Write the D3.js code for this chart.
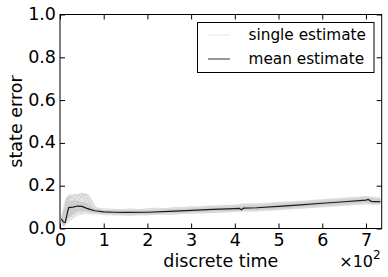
<!DOCTYPE html>
<html><head><meta charset="utf-8">
<script src="https://cdn.jsdelivr.net/npm/d3@7"></script>
<style>body{margin:0;background:#fff}svg{display:block}text{font-family:"DejaVu Sans",sans-serif;fill:#000}</style>
</head><body>
<script>
// ---- data ----
const xTicks = [0,1,2,3,4,5,6,7];          // in units of 10^2
const yTicks = [0.0,0.2,0.4,0.6,0.8,1.0];
const meanT = [3,8,12,17,20,30,40,50,60,70,80,100,125,150,200,250,300,350,400,410,415,420,450,500,550,600,650,700,705,712,720,733];
const meanV = [0.045,0.030,0.028,0.075,0.098,0.100,0.105,0.103,0.095,0.088,0.083,0.078,0.076,0.075,0.076,0.080,0.085,0.089,0.093,0.094,0.088,0.095,0.097,0.103,0.110,0.118,0.125,0.133,0.136,0.127,0.126,0.126];
const bandT = [3,10,20,40,60,70,80,100,150,200,250,300,350,400,420,450,500,550,600,650,700,720,733];
const bandOuterHi = [0.06,0.13,0.16,0.16,0.165,0.14,0.10,0.095,0.090,0.092,0.097,0.103,0.107,0.112,0.118,0.118,0.125,0.130,0.138,0.145,0.152,0.148,0.145];
const bandOuterLo = [0.02,0.01,0.03,0.06,0.07,0.066,0.065,0.062,0.060,0.062,0.066,0.070,0.073,0.077,0.079,0.080,0.085,0.092,0.098,0.105,0.112,0.111,0.110];
const bandInnerHi = [0.05,0.10,0.13,0.13,0.12,0.105,0.092,0.087,0.083,0.085,0.090,0.095,0.099,0.104,0.108,0.109,0.116,0.122,0.130,0.137,0.145,0.140,0.138];
const bandInnerLo = [0.03,0.02,0.05,0.08,0.08,0.075,0.072,0.069,0.067,0.068,0.071,0.075,0.079,0.083,0.086,0.087,0.092,0.099,0.106,0.113,0.121,0.117,0.116];
const earlyT = [3,6,9,12,15,18,22,26,30,35,40,45,50,55,60,65,70,75,80,90,100,110,120];
const single1 = [0.05,0.03,0.02,0.06,0.12,0.14,0.15,0.14,0.15,0.16,0.155,0.16,0.15,0.14,0.12,0.10,0.09,0.085,0.08,0.078,0.08,0.076,0.077];
const single2 = [0.04,0.02,0.03,0.09,0.13,0.12,0.11,0.12,0.13,0.14,0.15,0.16,0.165,0.16,0.15,0.13,0.11,0.095,0.088,0.082,0.079,0.078,0.076];
const single3 = [0.06,0.04,0.01,0.05,0.10,0.13,0.145,0.15,0.14,0.13,0.12,0.11,0.10,0.095,0.09,0.087,0.085,0.08,0.078,0.077,0.075,0.074,0.074];
const single4 = [0.03,0.05,0.03,0.07,0.11,0.10,0.09,0.095,0.10,0.11,0.125,0.14,0.15,0.155,0.16,0.155,0.14,0.12,0.10,0.09,0.083,0.08,0.078];
const single5 = [0.05,0.02,0.04,0.08,0.14,0.15,0.13,0.12,0.11,0.10,0.095,0.09,0.088,0.085,0.083,0.082,0.08,0.079,0.078,0.076,0.075,0.074,0.073];
const fullT = [120,140,160,180,200,220,240,260,280,300,320,340,360,380,400,420,440,460,480,500,520,540,560,580,600,620,640,660,680,700,720,733];
const single6 = [0.090,0.086,0.092,0.088,0.091,0.095,0.092,0.097,0.096,0.101,0.099,0.104,0.103,0.108,0.106,0.113,0.110,0.115,0.114,0.120,0.119,0.125,0.124,0.131,0.130,0.137,0.135,0.142,0.141,0.150,0.140,0.139];
const single7 = [0.064,0.066,0.062,0.065,0.064,0.067,0.068,0.066,0.071,0.072,0.074,0.073,0.077,0.078,0.080,0.082,0.081,0.086,0.087,0.090,0.092,0.095,0.097,0.100,0.104,0.106,0.110,0.112,0.117,0.119,0.113,0.114];
const single8 = [0.082,0.080,0.083,0.079,0.084,0.083,0.087,0.085,0.090,0.089,0.094,0.093,0.097,0.096,0.101,0.100,0.104,0.106,0.108,0.111,0.113,0.117,0.118,0.123,0.125,0.129,0.131,0.135,0.137,0.142,0.133,0.132];
const legendLabels = ["single estimate","mean estimate"];

// ---- layout ----
const W=388,H=277, L=60, T=14.5, R=381.7, B=228.5, FS=17.5;
const svg=d3.select("body").append("svg").attr("width",W).attr("height",H);
const x=d3.scaleLinear().domain([0,736]).range([L,R]);
const y=d3.scaleLinear().domain([0,1]).range([B,T]);

const g=svg.append("g");
const area=(hi,lo)=>d3.area().x((d,i)=>x(bandT[i])).y0((d,i)=>y(lo[i])).y1((d,i)=>y(hi[i]));
g.append("path").datum(bandT).attr("d",area(bandOuterHi,bandOuterLo)).attr("fill","#e4e4e4");
g.append("path").datum(bandT).attr("d",area(bandInnerHi,bandInnerLo)).attr("fill","#cdcdcd");
const line=(tt,vv)=>d3.line().x((d,i)=>x(tt[i])).y((d,i)=>y(vv[i]))(tt);
[single1,single2,single3,single4,single5].forEach(s=>{
  g.append("path").attr("d",line(earlyT,s)).attr("fill","none").attr("stroke","#cfcfcf").attr("stroke-width",1);
});
[single6,single7,single8].forEach(s=>{
  g.append("path").attr("d",line(fullT,s)).attr("fill","none").attr("stroke","#d6d6d6").attr("stroke-width",0.8);
});
g.append("path").attr("d",line(meanT,meanV)).attr("fill","none").attr("stroke","#1a1a1a").attr("stroke-width",1.2);

// axes
const tickLen=5;
const xa=svg.append("g").attr("transform",`translate(0,${B})`).call(d3.axisBottom(x).tickValues(xTicks.map(v=>v*100)).tickFormat(d=>d/100).tickSizeInner(-tickLen).tickSizeOuter(0).tickPadding(4));
const xt=svg.append("g").attr("transform",`translate(0,${T})`).call(d3.axisTop(x).tickValues(xTicks.map(v=>v*100)).tickFormat("").tickSizeInner(-tickLen).tickSizeOuter(0));
const ya=svg.append("g").attr("transform",`translate(${L},0)`).call(d3.axisLeft(y).tickValues(yTicks).tickFormat(d3.format(".1f")).tickSizeInner(-tickLen).tickSizeOuter(0).tickPadding(4));
const yr=svg.append("g").attr("transform",`translate(${R},0)`).call(d3.axisRight(y).tickValues(yTicks).tickFormat("").tickSizeInner(-tickLen).tickSizeOuter(0));
[xa,xt,ya,yr].forEach(a=>{a.select(".domain").remove();a.selectAll("line").attr("stroke","#000");a.selectAll("text").attr("font-size",FS).attr("font-family","DejaVu Sans");});
xa.selectAll("text").attr("dy","0.75em");
ya.selectAll("text").attr("dy","0.28em");
svg.append("rect").attr("x",L).attr("y",T).attr("width",R-L).attr("height",B-T).attr("fill","none").attr("stroke","#000").attr("stroke-width",1);

// labels
svg.append("text").attr("x",(L+R)/2).attr("y",267).attr("text-anchor","middle").attr("font-size",FS).text("discrete time");
const mult=svg.append("text").attr("x",R-1).attr("y",266.5).attr("text-anchor","end").attr("font-size",16);
mult.append("tspan").text("×10");
mult.append("tspan").attr("font-size",12).attr("dy",-8).text("2");
svg.append("text").attr("transform",`translate(21.5,${(T+B)/2}) rotate(-90)`).attr("text-anchor","middle").attr("font-size",FS).text("state error");

// legend
const lg=svg.append("g");
lg.append("rect").attr("x",197.5).attr("y",22.5).attr("width",176.5).attr("height",50).attr("fill","#fff").attr("stroke","#000").attr("stroke-width",1);
const lc=["#e8e8e8","#333"];
legendLabels.forEach((t,i)=>{
  const yy=35+i*24;
  lg.append("line").attr("x1",208).attr("x2",230).attr("y1",yy).attr("y2",yy).attr("stroke",lc[i]).attr("stroke-width",1);
  lg.append("text").attr("x",248.5).attr("y",yy+5).attr("font-size",15.3).text(t);
});
</script>
</body></html>
